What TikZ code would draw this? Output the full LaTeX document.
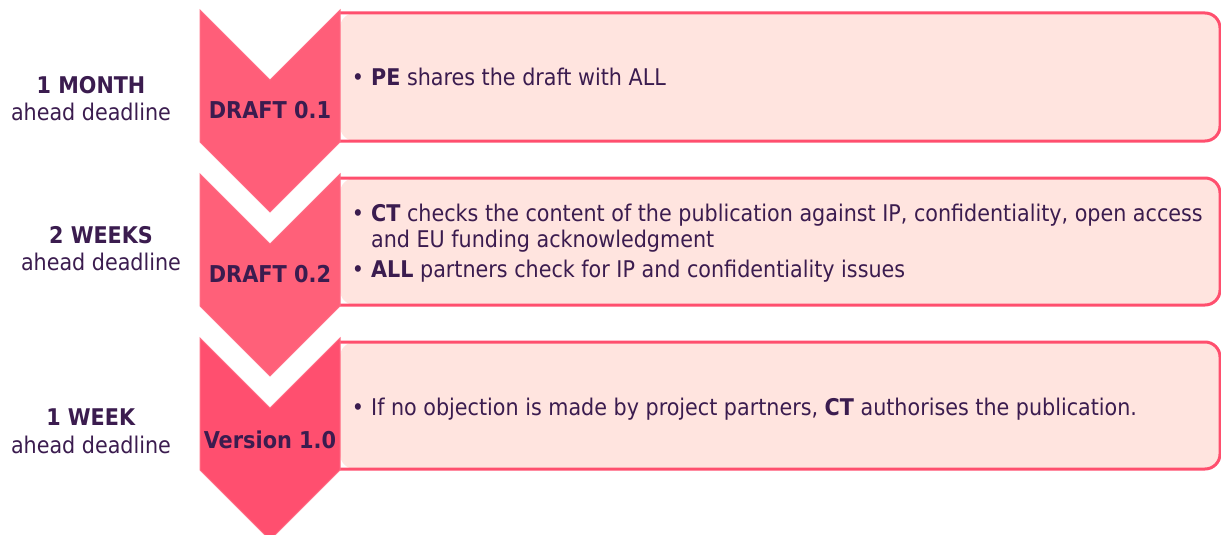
\documentclass[tikz,border=0pt]{standalone}
\usepackage{fontspec}
\setmainfont{DejaVu Sans Condensed}[BoldFont={DejaVu Sans Condensed Bold}]
\definecolor{ink}{HTML}{3B1C4F}
\definecolor{chevA}{HTML}{FF5E79}
\definecolor{chevB}{HTML}{FF6079}
\definecolor{chevC}{HTML}{FF4F6F}
\definecolor{chevline}{HTML}{FF6E86}
\definecolor{boxfill}{HTML}{FFE4DF}
\definecolor{boxline}{HTML}{FF4F6E}
\tikzset{
  boxedge/.style={draw=boxline, line width=3pt, rounded corners=15pt},
  chev/.style={draw=chevline, line width=1pt},
  body/.style={font=\fontsize{23}{26}\selectfont, text=ink, anchor=base west, inner sep=0pt},
  bul/.style={font=\fontsize{23}{26}\selectfont, text=ink, anchor=base, inner sep=0pt},
  lbl/.style={font=\fontsize{23}{26}\selectfont, text=ink, anchor=base, inner sep=0pt},
  chevlbl/.style={font=\bfseries\fontsize{23.2}{26}\selectfont, text=ink, anchor=base, inner sep=0pt},
}
\newcommand{\stepboxat}[2]{%
  \fill[boxfill, rounded corners=15pt] (340,#1) -- (1220,#1) -- (1220,#2) -- (340,#2) -- cycle;
  \draw[boxedge] (340,#1) -- (1220,#1) -- (1220,#2) -- (340,#2);
}
\begin{document}
\begin{tikzpicture}[x=1pt,y=-1pt]
\useasboundingbox (0,0) rectangle (1221,535);
\begin{scope}
\clip (0,0) rectangle (1221,535);
% boxes
\stepboxat{13}{141}
\stepboxat{178}{305}
\stepboxat{342}{469}
% chevrons
\draw[chev, fill=chevA] (200,10) -- (270,80) -- (340,10) -- (340,142) -- (270,212) -- (200,142) -- cycle;
\draw[chev, fill=chevB] (200,174) -- (270,244) -- (340,174) -- (340,306) -- (270,376) -- (200,306) -- cycle;
\draw[chev, fill=chevC] (200,338) -- (270,408) -- (340,338) -- (340,470) -- (270,540) -- (200,470) -- cycle;
\end{scope}
% chevron labels
\node[chevlbl] (c1) at (270,118) {DRAFT 0.1};
\node[chevlbl] (c2) at (270,282) {DRAFT 0.2};
\node[chevlbl] (c3) at (270,448) {Version 1.0};
% left labels
\node[lbl] (l1a) at (91,93) {\textbf{1 MONTH}};
\node[lbl] (l1b) at (91,120) {ahead deadline};
\node[lbl] (l2a) at (101,243) {\textbf{2 WEEKS}};
\node[lbl] (l2b) at (101,270) {ahead deadline};
\node[lbl] (l3a) at (91,425) {\textbf{1 WEEK}};
\node[lbl] (l3b) at (91,453) {ahead deadline};
% box texts
\node[bul] (b1) at (358,85) {•};
\node[body] (t1) at (371,85) {\textbf{PE} shares the draft with ALL};
\node[bul] (b2) at (358,221) {•};
\node[body] (t2) at (371,221) {\textbf{CT} checks the content of the publication against IP, confidentiality, open access};
\node[body] (t2b) at (371,247) {and EU funding acknowledgment};
\node[bul] (b3) at (358,277) {•};
\node[body] (t3) at (371,277) {\textbf{ALL} partners check for IP and confidentiality issues};
\node[bul] (b4) at (358,415) {•};
\node[body] (t4) at (371,415) {If no objection is made by project partners, \textbf{CT} authorises the publication.};
\end{tikzpicture}
\end{document}
